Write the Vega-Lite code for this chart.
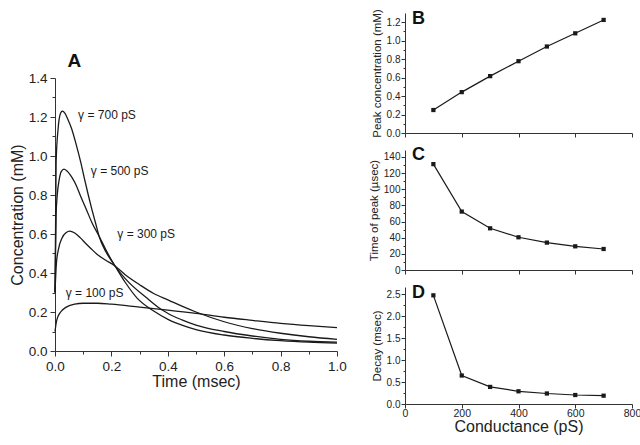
{
  "$schema": "https://vega.github.io/schema/vega-lite/v6.json",
  "padding": {"left": 9, "top": 8, "right": 5, "bottom": 5},
  "background": "white",
  "config": {
    "font": "Liberation Sans",
    "view": {"stroke": null},
    "axis": {
      "domainColor": "#333333", "tickColor": "#333333", "labelColor": "#222222", "titleColor": "#222222",
      "grid": false, "labelFont": "Liberation Sans", "titleFont": "Liberation Sans", "titleFontWeight": "normal",
      "labelFlush": false, "labelOverlap": false, "domainWidth": 1, "tickWidth": 1
    }
  },
  "datasets": {
    "curves": [
      {"g": "700", "t": 0, "c": 0.30}, {"g": "700", "t": 0.004, "c": 0.97}, {"g": "700", "t": 0.011, "c": 1.14},
      {"g": "700", "t": 0.02, "c": 1.22}, {"g": "700", "t": 0.026, "c": 1.23}, {"g": "700", "t": 0.035, "c": 1.22},
      {"g": "700", "t": 0.045, "c": 1.19}, {"g": "700", "t": 0.059, "c": 1.14}, {"g": "700", "t": 0.075, "c": 1.06},
      {"g": "700", "t": 0.091, "c": 0.97}, {"g": "700", "t": 0.105, "c": 0.88}, {"g": "700", "t": 0.118, "c": 0.80},
      {"g": "700", "t": 0.131, "c": 0.725}, {"g": "700", "t": 0.144, "c": 0.655}, {"g": "700", "t": 0.156, "c": 0.59},
      {"g": "700", "t": 0.18, "c": 0.51}, {"g": "700", "t": 0.209, "c": 0.445}, {"g": "700", "t": 0.25, "c": 0.35},
      {"g": "700", "t": 0.292, "c": 0.27}, {"g": "700", "t": 0.35, "c": 0.205}, {"g": "700", "t": 0.404, "c": 0.16},
      {"g": "700", "t": 0.45, "c": 0.133}, {"g": "700", "t": 0.5, "c": 0.11}, {"g": "700", "t": 0.6, "c": 0.082},
      {"g": "700", "t": 0.7, "c": 0.065}, {"g": "700", "t": 0.8, "c": 0.053}, {"g": "700", "t": 0.9, "c": 0.045},
      {"g": "700", "t": 1.0, "c": 0.04},
      {"g": "500", "t": 0, "c": 0.30}, {"g": "500", "t": 0.004, "c": 0.70}, {"g": "500", "t": 0.008, "c": 0.80},
      {"g": "500", "t": 0.015, "c": 0.88}, {"g": "500", "t": 0.022, "c": 0.92}, {"g": "500", "t": 0.032, "c": 0.933},
      {"g": "500", "t": 0.045, "c": 0.92}, {"g": "500", "t": 0.06, "c": 0.89}, {"g": "500", "t": 0.075, "c": 0.85},
      {"g": "500", "t": 0.089, "c": 0.80}, {"g": "500", "t": 0.11, "c": 0.73}, {"g": "500", "t": 0.132, "c": 0.655},
      {"g": "500", "t": 0.156, "c": 0.59}, {"g": "500", "t": 0.18, "c": 0.52}, {"g": "500", "t": 0.209, "c": 0.445},
      {"g": "500", "t": 0.25, "c": 0.37}, {"g": "500", "t": 0.327, "c": 0.27}, {"g": "500", "t": 0.38, "c": 0.21},
      {"g": "500", "t": 0.404, "c": 0.19}, {"g": "500", "t": 0.45, "c": 0.16}, {"g": "500", "t": 0.5, "c": 0.133},
      {"g": "500", "t": 0.6, "c": 0.10}, {"g": "500", "t": 0.7, "c": 0.077}, {"g": "500", "t": 0.8, "c": 0.06},
      {"g": "500", "t": 0.9, "c": 0.05}, {"g": "500", "t": 1.0, "c": 0.045},
      {"g": "300", "t": 0, "c": 0.30}, {"g": "300", "t": 0.005, "c": 0.45}, {"g": "300", "t": 0.012, "c": 0.52},
      {"g": "300", "t": 0.025, "c": 0.58}, {"g": "300", "t": 0.04, "c": 0.608}, {"g": "300", "t": 0.052, "c": 0.615},
      {"g": "300", "t": 0.07, "c": 0.605}, {"g": "300", "t": 0.09, "c": 0.58}, {"g": "300", "t": 0.11, "c": 0.55},
      {"g": "300", "t": 0.127, "c": 0.526}, {"g": "300", "t": 0.15, "c": 0.495}, {"g": "300", "t": 0.18, "c": 0.465},
      {"g": "300", "t": 0.209, "c": 0.44}, {"g": "300", "t": 0.25, "c": 0.39}, {"g": "300", "t": 0.3, "c": 0.34},
      {"g": "300", "t": 0.35, "c": 0.295}, {"g": "300", "t": 0.404, "c": 0.26}, {"g": "300", "t": 0.45, "c": 0.23},
      {"g": "300", "t": 0.5, "c": 0.2}, {"g": "300", "t": 0.6, "c": 0.15}, {"g": "300", "t": 0.7, "c": 0.115},
      {"g": "300", "t": 0.8, "c": 0.091}, {"g": "300", "t": 0.9, "c": 0.073}, {"g": "300", "t": 1.0, "c": 0.06},
      {"g": "100", "t": 0, "c": 0.10}, {"g": "100", "t": 0.005, "c": 0.15}, {"g": "100", "t": 0.01, "c": 0.175},
      {"g": "100", "t": 0.02, "c": 0.20}, {"g": "100", "t": 0.04, "c": 0.225}, {"g": "100", "t": 0.07, "c": 0.24},
      {"g": "100", "t": 0.1, "c": 0.245}, {"g": "100", "t": 0.15, "c": 0.245}, {"g": "100", "t": 0.2, "c": 0.24},
      {"g": "100", "t": 0.3, "c": 0.225}, {"g": "100", "t": 0.4, "c": 0.21}, {"g": "100", "t": 0.5, "c": 0.193},
      {"g": "100", "t": 0.6, "c": 0.173}, {"g": "100", "t": 0.7, "c": 0.157}, {"g": "100", "t": 0.8, "c": 0.142},
      {"g": "100", "t": 0.9, "c": 0.13}, {"g": "100", "t": 1.0, "c": 0.12}
    ],
    "curveLabels": [
      {"t": 0.082, "c": 1.21, "label": "γ = 700 pS"},
      {"t": 0.127, "c": 0.925, "label": "γ = 500 pS"},
      {"t": 0.221, "c": 0.60, "label": "γ = 300 pS"},
      {"t": 0.038, "c": 0.296, "label": "γ = 100 pS"}
    ],
    "stats": [
      {"g": 100, "peak": 0.249, "tpeak": 131, "decay": 2.48},
      {"g": 200, "peak": 0.443, "tpeak": 72.3, "decay": 0.65},
      {"g": 300, "peak": 0.616, "tpeak": 51.6, "decay": 0.39},
      {"g": 400, "peak": 0.778, "tpeak": 40.5, "decay": 0.29},
      {"g": 500, "peak": 0.937, "tpeak": 33.9, "decay": 0.24},
      {"g": 600, "peak": 1.08, "tpeak": 29.3, "decay": 0.205},
      {"g": 700, "peak": 1.225, "tpeak": 26, "decay": 0.19}
    ]
  },
  "spacing": 21,
  "hconcat": [
    {
      "bounds": "flush",
      "spacing": 0,
      "vconcat": [
        {"width": 282, "height": 65, "data": {"values": []}, "mark": {"type": "point", "opacity": 0}, "encoding": {}},
        {
          "width": 282, "height": 273,
          "resolve": {"axis": {"x": "independent", "y": "independent"}},
          "layer": [
            {
              "data": {"name": "curves"},
              "mark": {"type": "line", "interpolate": "monotone", "color": "#1a1a1a", "strokeWidth": 1.3},
              "encoding": {
                "x": {"field": "t", "type": "quantitative", "scale": {"domain": [0, 1], "nice": false},
                  "axis": {"title": "Time (msec)", "orient": "bottom", "values": [0, 0.2, 0.4, 0.6, 0.8, 1.0], "format": ".1f",
                    "tickSize": 5, "labelFontSize": 13.5, "titleFontSize": 16, "labelPadding": 3, "titlePadding": 1}},
                "y": {"field": "c", "type": "quantitative", "scale": {"domain": [0, 1.4], "nice": false},
                  "axis": {"title": "Concentration  (mM)", "orient": "left", "values": [0, 0.2, 0.4, 0.6, 0.8, 1.0, 1.2, 1.4], "format": ".1f",
                    "tickSize": 5, "labelFontSize": 13.5, "titleFontSize": 16, "labelPadding": 3, "titlePadding": 3}},
                "detail": {"field": "g", "type": "nominal"}
              }
            },
            {
              "data": {"name": "curveLabels"},
              "mark": {"type": "text", "align": "left", "baseline": "middle", "fontSize": 12, "color": "#1a1a1a"},
              "encoding": {
                "x": {"field": "t", "type": "quantitative",
                  "axis": {"orient": "bottom", "values": [0.1, 0.3, 0.5, 0.7, 0.9], "labels": false, "title": null, "domain": false, "tickSize": 3}},
                "y": {"field": "c", "type": "quantitative",
                  "axis": {"orient": "left", "values": [0.1, 0.3, 0.5, 0.7, 0.9, 1.1, 1.3], "labels": false, "title": null, "domain": false, "tickSize": 3}},
                "text": {"field": "label"}
              }
            },
            {
              "data": {"values": [{"t": 0.044, "c": 1.458, "label": "A"}]},
              "mark": {"type": "text", "align": "left", "baseline": "alphabetic", "fontSize": 19, "fontWeight": "bold", "color": "#111111"},
              "encoding": {
                "x": {"field": "t", "type": "quantitative", "axis": null},
                "y": {"field": "c", "type": "quantitative", "axis": null},
                "text": {"field": "label"}
              }
            }
          ]
        }
      ]
    },
    {
      "bounds": "flush",
      "spacing": 17,
      "vconcat": [
        {
          "width": 227, "height": 120,
          "resolve": {"axis": {"y": "independent"}},
          "layer": [
            {
              "data": {"name": "stats"},
              "mark": {"type": "line", "color": "#1a1a1a", "strokeWidth": 1.2, "point": {"shape": "square", "size": 18, "filled": true, "color": "#1a1a1a"}},
              "encoding": {
                "x": {"field": "g", "type": "quantitative", "scale": {"domain": [0, 800], "nice": false},
                  "axis": {"title": null, "labels": false, "values": [0, 100, 200, 300, 400, 500, 600, 700, 800], "tickSize": 4}},
                "y": {"field": "peak", "type": "quantitative", "scale": {"domain": [0, 1.3], "nice": false},
                  "axis": {"title": "Peak concentration (mM)", "orient": "left", "values": [0, 0.2, 0.4, 0.6, 0.8, 1.0, 1.2], "format": ".1f",
                    "tickSize": 4, "labelFontSize": 10, "titleFontSize": 11.5, "labelPadding": 1, "titlePadding": 4}}
              }
            },
            {
              "data": {"values": [{"g": 25, "peak": 1.185, "label": "B"}]},
              "mark": {"type": "text", "align": "left", "baseline": "alphabetic", "fontSize": 18, "fontWeight": "bold", "color": "#111111"},
              "encoding": {
                "x": {"field": "g", "type": "quantitative"},
                "y": {"field": "peak", "type": "quantitative",
                  "axis": {"orient": "left", "values": [0.1, 0.3, 0.5, 0.7, 0.9, 1.1], "labels": false, "title": null, "domain": false, "tickSize": 2}},
                "text": {"field": "label"}
              }
            }
          ]
        },
        {
          "width": 227, "height": 120,
          "resolve": {"axis": {"y": "independent"}},
          "layer": [
            {
              "data": {"name": "stats"},
              "mark": {"type": "line", "color": "#1a1a1a", "strokeWidth": 1.2, "point": {"shape": "square", "size": 18, "filled": true, "color": "#1a1a1a"}},
              "encoding": {
                "x": {"field": "g", "type": "quantitative", "scale": {"domain": [0, 800], "nice": false},
                  "axis": {"title": null, "labels": false, "values": [0, 100, 200, 300, 400, 500, 600, 700, 800], "tickSize": 4}},
                "y": {"field": "tpeak", "type": "quantitative", "scale": {"domain": [0, 148.5], "nice": false},
                  "axis": {"title": "Time of peak (µsec)", "orient": "left", "values": [0, 20, 40, 60, 80, 100, 120, 140], "format": "d",
                    "tickSize": 4, "labelFontSize": 10, "titleFontSize": 11.5, "labelPadding": 1, "titlePadding": 4}}
              }
            },
            {
              "data": {"values": [{"g": 25, "tpeak": 136, "label": "C"}]},
              "mark": {"type": "text", "align": "left", "baseline": "alphabetic", "fontSize": 18, "fontWeight": "bold", "color": "#111111"},
              "encoding": {
                "x": {"field": "g", "type": "quantitative"},
                "y": {"field": "tpeak", "type": "quantitative",
                  "axis": {"orient": "left", "values": [10, 30, 50, 70, 90, 110, 130], "labels": false, "title": null, "domain": false, "tickSize": 2}},
                "text": {"field": "label"}
              }
            }
          ]
        },
        {
          "width": 227, "height": 117,
          "resolve": {"axis": {"y": "independent"}},
          "layer": [
            {
              "data": {"name": "stats"},
              "mark": {"type": "line", "color": "#1a1a1a", "strokeWidth": 1.2, "point": {"shape": "square", "size": 18, "filled": true, "color": "#1a1a1a"}},
              "encoding": {
                "x": {"field": "g", "type": "quantitative", "scale": {"domain": [0, 800], "nice": false},
                  "axis": {"title": "Conductance (pS)", "values": [0, 100, 200, 300, 400, 500, 600, 700, 800],
                    "labelExpr": "datum.value%200==0 ? format(datum.value,'d') : ''",
                    "labelOverlap": false, "labelFlush": false,
                    "tickSize": 4, "labelFontSize": 10.5, "titleFontSize": 16, "labelPadding": 0, "titlePadding": 0}},
                "y": {"field": "decay", "type": "quantitative", "scale": {"domain": [0, 2.67], "nice": false},
                  "axis": {"title": "Decay (msec)", "orient": "left", "values": [0, 0.5, 1.0, 1.5, 2.0, 2.5], "format": ".1f",
                    "tickSize": 4, "labelFontSize": 10, "titleFontSize": 11.5, "labelPadding": 1, "titlePadding": 4}}
              }
            },
            {
              "data": {"values": [{"g": 25, "decay": 2.42, "label": "D"}]},
              "mark": {"type": "text", "align": "left", "baseline": "alphabetic", "fontSize": 18, "fontWeight": "bold", "color": "#111111"},
              "encoding": {
                "x": {"field": "g", "type": "quantitative"},
                "y": {"field": "decay", "type": "quantitative",
                  "axis": {"orient": "left", "values": [0.25, 0.75, 1.25, 1.75, 2.25], "labels": false, "title": null, "domain": false, "tickSize": 2}},
                "text": {"field": "label"}
              }
            }
          ]
        }
      ]
    }
  ]
}
